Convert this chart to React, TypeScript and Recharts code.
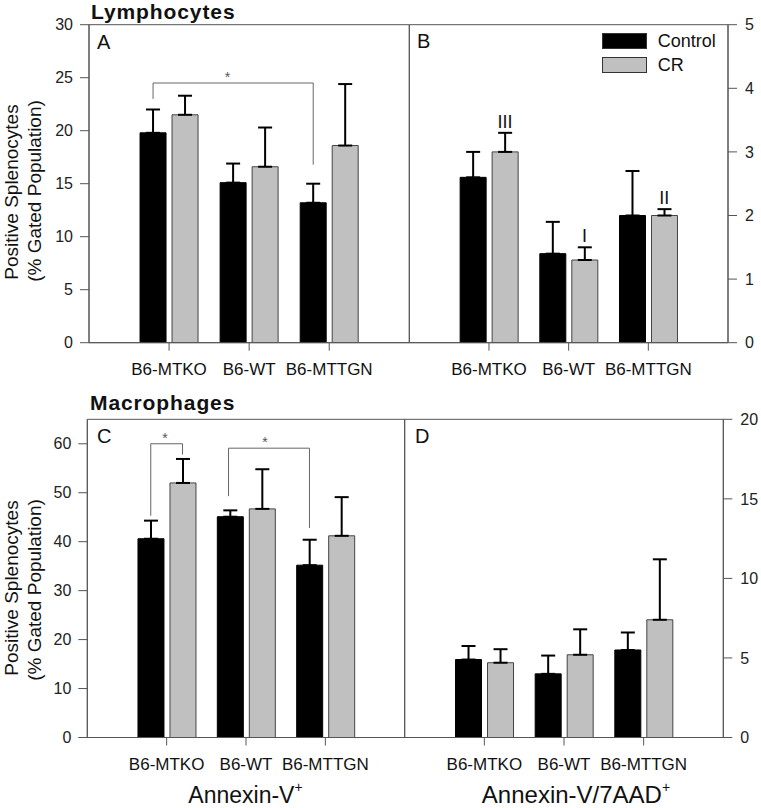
import React from "react";
import {
  BarChart,
  Bar,
  XAxis,
  YAxis,
  ErrorBar,
  ReferenceLine,
  ReferenceArea,
  ReferenceDot,
  Legend,
} from "recharts";

const FONT = '"Liberation Sans", Arial, Helvetica, sans-serif';
const AXIS = "#555";
const GRAY = "#c0c0c0";

const groups = ["B6-MTKO", "B6-WT", "B6-MTTGN"];
const seriesOrder = ["Control", "CR"];

// A: lymphocytes, Annexin-V+
const lymphAnnexinCtrl = [19.8, 15.1, 13.2];
const lymphAnnexinCtrlErr = [2.2, 1.8, 1.8];
const lymphAnnexinCR = [21.5, 16.6, 18.6];
const lymphAnnexinCRErr = [1.8, 3.7, 5.8];
const ticksA = [0, 5, 10, 15, 20, 25, 30];

// B: lymphocytes, Annexin-V/7AAD+
const lymph7aadCtrl = [2.6, 1.4, 2.0];
const lymph7aadCtrlErr = [0.4, 0.5, 0.7];
const lymph7aadCR = [3.0, 1.3, 2.0];
const lymph7aadCRErr = [0.3, 0.2, 0.1];
const lymph7aadMarks = ["III", "I", "II"];
const ticksB = [0, 1, 2, 3, 4, 5];

// C: macrophages, Annexin-V+
const macAnnexinCtrl = [40.6, 45.1, 35.2];
const macAnnexinCtrlErr = [3.7, 1.3, 5.2];
const macAnnexinCR = [52.0, 46.7, 41.2];
const macAnnexinCRErr = [4.9, 8.1, 7.9];
const ticksC = [0, 10, 20, 30, 40, 50, 60];

// D: macrophages, Annexin-V/7AAD+
const mac7aadCtrl = [4.9, 4.0, 5.5];
const mac7aadCtrlErr = [0.85, 1.15, 1.1];
const mac7aadCR = [4.7, 5.2, 7.4];
const mac7aadCRErr = [0.85, 1.6, 3.8];
const ticksD = [0, 5, 10, 15, 20];

// significance brackets, x in group units (group i sits at i + 1)
const bracketsA = [{ x1: 0.8, x2: 2.8, y: 24.5, y1: 23.0, y2: 16.8, starX: 1.73 }];
const bracketsC = [
  { x1: 0.8, x2: 1.2, y: 60.0, y1: 45.3, y2: 57.8, starX: 0.98 },
  { x1: 1.78, x2: 2.8, y: 59.1, y1: 49.3, y2: 42.8, starX: 2.24 },
];

type Bracket = { x1: number; x2: number; y: number; y1: number; y2: number; starX: number };

function rowsOf(ctrl: number[], ctrlErr: number[], cr: number[], crErr: number[]) {
  return groups.map((g, i) => ({
    group: g,
    pos: i + 1,
    ctrl: ctrl[i],
    ctrlErr: [0, ctrlErr[i]],
    cr: cr[i],
    crErr: [0, crErr[i]],
  }));
}

function LegendBox({ payload }: any) {
  const items = [...(payload || [])].sort(
    (a: any, b: any) => seriesOrder.indexOf(a.value) - seriesOrder.indexOf(b.value)
  );
  return (
    <div style={{ fontFamily: FONT, fontSize: 18, color: "#111" }}>
      {items.map((e: any) => (
        <div key={e.value} style={{ display: "flex", alignItems: "center", height: 23.4 }}>
          <div
            style={{
              width: 45,
              height: 16,
              background: e.color,
              border: "1px solid #333",
              boxSizing: "border-box",
            }}
          />
          <span style={{ marginLeft: 11, lineHeight: "18px" }}>{e.value}</span>
        </div>
      ))}
    </div>
  );
}

function Panel({
  left,
  top,
  width,
  height,
  margin,
  axisW,
  right,
  rows,
  yMax,
  ticks,
  brackets = [],
  marks,
  legend,
}: any) {
  const plotW = width - margin.left - margin.right - axisW;
  const pad = plotW / 8;
  const tickStyle = { fontSize: 16, fill: "#222" };
  return (
    <div style={{ position: "absolute", left, top }}>
      <BarChart width={width} height={height} data={rows} margin={margin} barSize={26} barGap={6}>
        <XAxis
          dataKey="group"
          padding={{ left: pad, right: pad }}
          interval={0}
          height={42}
          tickSize={8}
          tickMargin={12}
          tick={{ fontSize: 17, fill: "#111" }}
          axisLine={{ stroke: AXIS }}
          tickLine={{ stroke: AXIS }}
        />
        <XAxis xAxisId="num" dataKey="pos" type="number" domain={[0, 4]} hide allowDataOverflow />
        <YAxis
          orientation={right ? "right" : "left"}
          width={axisW}
          domain={[0, yMax]}
          ticks={ticks}
          allowDataOverflow
          interval={0}
          tickSize={9}
          tickMargin={right ? 8 : 7}
          tick={tickStyle}
          axisLine={{ stroke: AXIS }}
          tickLine={{ stroke: AXIS }}
        />
        <ReferenceArea
          xAxisId="num"
          x1={0}
          x2={4}
          y1={0}
          y2={yMax}
          fill="none"
          fillOpacity={0}
          stroke={AXIS}
          strokeWidth={1}
          ifOverflow="visible"
        />
        <Bar dataKey="ctrl" name="Control" fill="#000" stroke="#000" isAnimationActive={false}>
          <ErrorBar dataKey="ctrlErr" direction="y" width={7} stroke="#000" strokeWidth={2} isAnimationActive={false} />
        </Bar>
        <Bar dataKey="cr" name="CR" fill={GRAY} stroke="#444" isAnimationActive={false}>
          <ErrorBar dataKey="crErr" direction="y" width={7} stroke="#000" strokeWidth={2} isAnimationActive={false} />
        </Bar>
        {brackets.map((b: Bracket, i: number) => [
          <ReferenceLine
            key={`h${i}`}
            xAxisId="num"
            segment={[{ x: b.x1, y: b.y }, { x: b.x2, y: b.y }]}
            stroke="#666"
          />,
          <ReferenceLine
            key={`l${i}`}
            xAxisId="num"
            segment={[{ x: b.x1, y: b.y1 }, { x: b.x1, y: b.y }]}
            stroke="#666"
          />,
          <ReferenceLine
            key={`r${i}`}
            xAxisId="num"
            segment={[{ x: b.x2, y: b.y2 }, { x: b.x2, y: b.y }]}
            stroke="#666"
          />,
          <ReferenceDot
            key={`s${i}`}
            xAxisId="num"
            x={b.starX}
            y={b.y}
            r={1}
            shape={(p: any) => (
              <text x={p.cx} y={p.cy - 1} textAnchor="middle" fontSize={14} fill="#555">
                *
              </text>
            )}
          />,
        ])}
        {marks &&
          marks.map((m: string, i: number) => (
            <ReferenceDot
              key={`m${i}`}
              xAxisId="num"
              x={i + 1.2}
              y={rows[i].cr + rows[i].crErr[1]}
              r={1}
              shape={(p: any) => (
                <text x={p.cx} y={p.cy - 5} textAnchor="middle" fontSize={18} fill="#111">
                  {m}
                </text>
              )}
            />
          ))}
        {legend && (
          <Legend
            layout="vertical"
            align="center"
            verticalAlign="middle"
            wrapperStyle={{ left: 201.7, top: 29.6, width: 140, height: 48 }}
            content={<LegendBox />}
          />
        )}
      </BarChart>
    </div>
  );
}

export default function App() {
  return (
    <div
      style={{
        position: "absolute",
        left: 0,
        top: 0,
        width: 761,
        height: 808,
        background: "#fff",
        fontFamily: FONT,
      }}
    >
      <Panel
        left={0}
        top={0}
        width={420}
        height={392}
        margin={{ top: 24.7, right: 10.7, bottom: 7.3, left: 39 }}
        axisW={50}
        rows={rowsOf(lymphAnnexinCtrl, lymphAnnexinCtrlErr, lymphAnnexinCR, lymphAnnexinCRErr)}
        yMax={30}
        ticks={ticksA}
        brackets={bracketsA}
      />
      <Panel
        left={400}
        top={0}
        width={361}
        height={392}
        margin={{ top: 24.7, right: 0, bottom: 7.3, left: 9.3 }}
        axisW={33}
        right
        rows={rowsOf(lymph7aadCtrl, lymph7aadCtrlErr, lymph7aadCR, lymph7aadCRErr)}
        yMax={5}
        ticks={ticksB}
        marks={lymph7aadMarks}
        legend
      />
      <Panel
        left={0}
        top={380}
        width={420}
        height={428}
        margin={{ top: 39.3, right: 15.3, bottom: 28.5, left: 37.3 }}
        axisW={50}
        rows={rowsOf(macAnnexinCtrl, macAnnexinCtrlErr, macAnnexinCR, macAnnexinCRErr)}
        yMax={65}
        ticks={ticksC}
        brackets={bracketsC}
      />
      <Panel
        left={395}
        top={380}
        width={366}
        height={428}
        margin={{ top: 39.3, right: 0, bottom: 28.5, left: 9.7 }}
        axisW={37.7}
        right
        rows={rowsOf(mac7aadCtrl, mac7aadCtrlErr, mac7aadCR, mac7aadCRErr)}
        yMax={20}
        ticks={ticksD}
      />
      <svg
        width={761}
        height={808}
        style={{ position: "absolute", left: 0, top: 0, pointerEvents: "none" }}
        fontFamily={FONT}
      >
        <text x={91} y={19} fontSize={21} fontWeight="bold" letterSpacing={0.9} fill="#111">
          Lymphocytes
        </text>
        <text x={90} y={410} fontSize={21} fontWeight="bold" letterSpacing={0.9} fill="#111">
          Macrophages
        </text>
        <text x={97} y={49} fontSize={20} fill="#111">A</text>
        <text x={417} y={48} fontSize={20} fill="#111">B</text>
        <text x={97} y={443} fontSize={20} fill="#111">C</text>
        <text x={415} y={443} fontSize={20} fill="#111">D</text>
        <g fontSize={19} fill="#111" textAnchor="middle">
          <text transform="translate(18,192) rotate(-90)">Positive Splenocytes</text>
          <text transform="translate(41,191) rotate(-90)">(% Gated Population)</text>
          <text transform="translate(18,588) rotate(-90)">Positive Splenocytes</text>
          <text transform="translate(41,590) rotate(-90)">(% Gated Population)</text>
        </g>
        <text x={245.5} y={803} fontSize={23} textAnchor="middle" fill="#111">
          Annexin-V<tspan fontSize={14} dy={-11}>+</tspan>
        </text>
        <text x={576} y={803} fontSize={24} textAnchor="middle" fill="#111">
          Annexin-V/7AAD<tspan fontSize={14} dy={-11}>+</tspan>
        </text>
      </svg>
    </div>
  );
}
